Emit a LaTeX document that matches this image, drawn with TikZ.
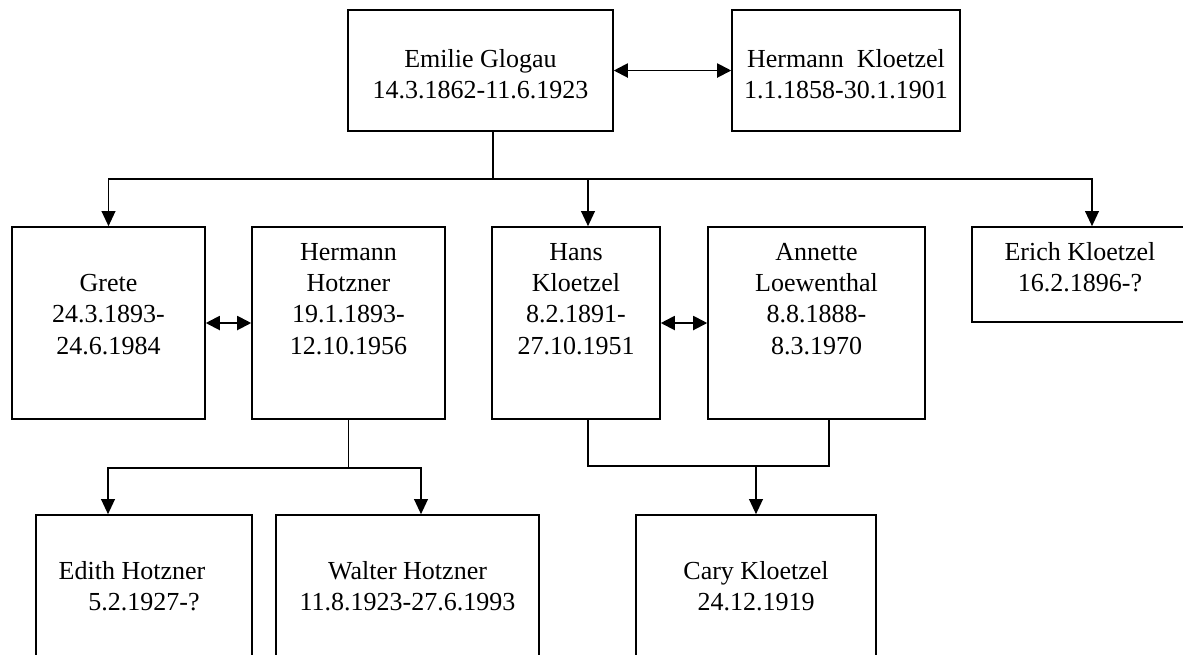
\documentclass[tikz,border=0pt]{standalone}
\usepackage{fontspec}
\setmainfont{Liberation Serif}
\usetikzlibrary{arrows.meta}

\begin{document}
\begin{tikzpicture}[x=0.02cm, y=-0.02cm, line width=0.9pt,
    person/.style={draw, inner sep=0pt, align=flush center, text height=0.66cm,
      font=\fontsize{14.8pt}{17.9pt}\selectfont},
    size/.style 2 args={text width=#1, text depth=#2-0.66cm},
    toprow/.style={text height=1.14cm, text depth=1.28cm},
    link/.style={line width=1.1pt, -{Triangle[length=0.3cm, width=0.27cm]}},
    couple/.style={line width=1.1pt, {Triangle[length=0.28cm, width=0.28cm]}-{Triangle[length=0.28cm, width=0.28cm]}}]
  \useasboundingbox (0,0) rectangle (1183,654);
  \clip (0,0) rectangle (1183,654);

  \node[person, size={5.30cm}{2.42cm}, toprow] (emilie) at (480.5,70.5) {Emilie Glogau\\14.3.1862-11.6.1923};
  \node[person, size={4.56cm}{2.42cm}, toprow] (hkloetzel) at (846,70.5) {Hermann~ Kloetzel\\1.1.1858-30.1.1901};

  \node[person, size={3.86cm}{3.84cm}] (grete) at (108.5,323) {\mbox{}\\Grete\\24.3.1893-\\24.6.1984};
  \node[person, size={3.86cm}{3.84cm}] (hhotzner) at (348.5,323) {Hermann\\Hotzner\\19.1.1893-\\12.10.1956};
  \node[person, size={3.36cm}{3.84cm}] (hans) at (576,323) {Hans\\Kloetzel\\8.2.1891-\\27.10.1951};
  \node[person, size={4.34cm}{3.84cm}] (annette) at (816.5,323) {Annette\\Loewenthal\\8.8.1888-\\8.3.1970};
  \node[person, size={4.32cm}{1.90cm}] (erich) at (1080,274.5) {Erich Kloetzel\\16.2.1896-?};

  \node[person, size={4.32cm}{3.84cm}] (edith) at (144,611) {\mbox{}\\Edith Hotzner\rule{0.48cm}{0pt}\\5.2.1927-?};
  \node[person, size={5.26cm}{3.84cm}] (walter) at (407.5,611) {\mbox{}\\Walter Hotzner\\11.8.1923-27.6.1993};
  \node[person, size={4.80cm}{3.84cm}] (cary) at (756,611) {\mbox{}\\Cary Kloetzel\\24.12.1919};

  \draw[couple] (emilie) -- (hkloetzel);
  \draw[couple] (grete) -- (hhotzner);
  \draw[couple] (hans) -- (annette);

  \coordinate (kids) at (493,179);
  \draw (emilie.south -| kids) -- (kids);
  \draw[link] (kids) -| (grete);
  \draw[link] (kids) -| ([xshift=0.24cm]hans.north);
  \draw[link] (kids) -| ([xshift=0.24cm]erich.north);

  \coordinate (hkids) at ([yshift=-0.96cm]hhotzner.south);
  \draw (hhotzner) -- (hkids);
  \draw[link] (hkids) -| ([xshift=-0.72cm]edith.north);
  \draw[link] (hkids) -| ([xshift=0.27cm]walter.north);

  \coordinate (hakids) at ([yshift=0.96cm]cary.north);
  \draw ([xshift=0.24cm]hans.south) |- (hakids) -| ([xshift=0.25cm]annette.south);
  \draw[link] (hakids) -- (cary);
\end{tikzpicture}
\end{document}
